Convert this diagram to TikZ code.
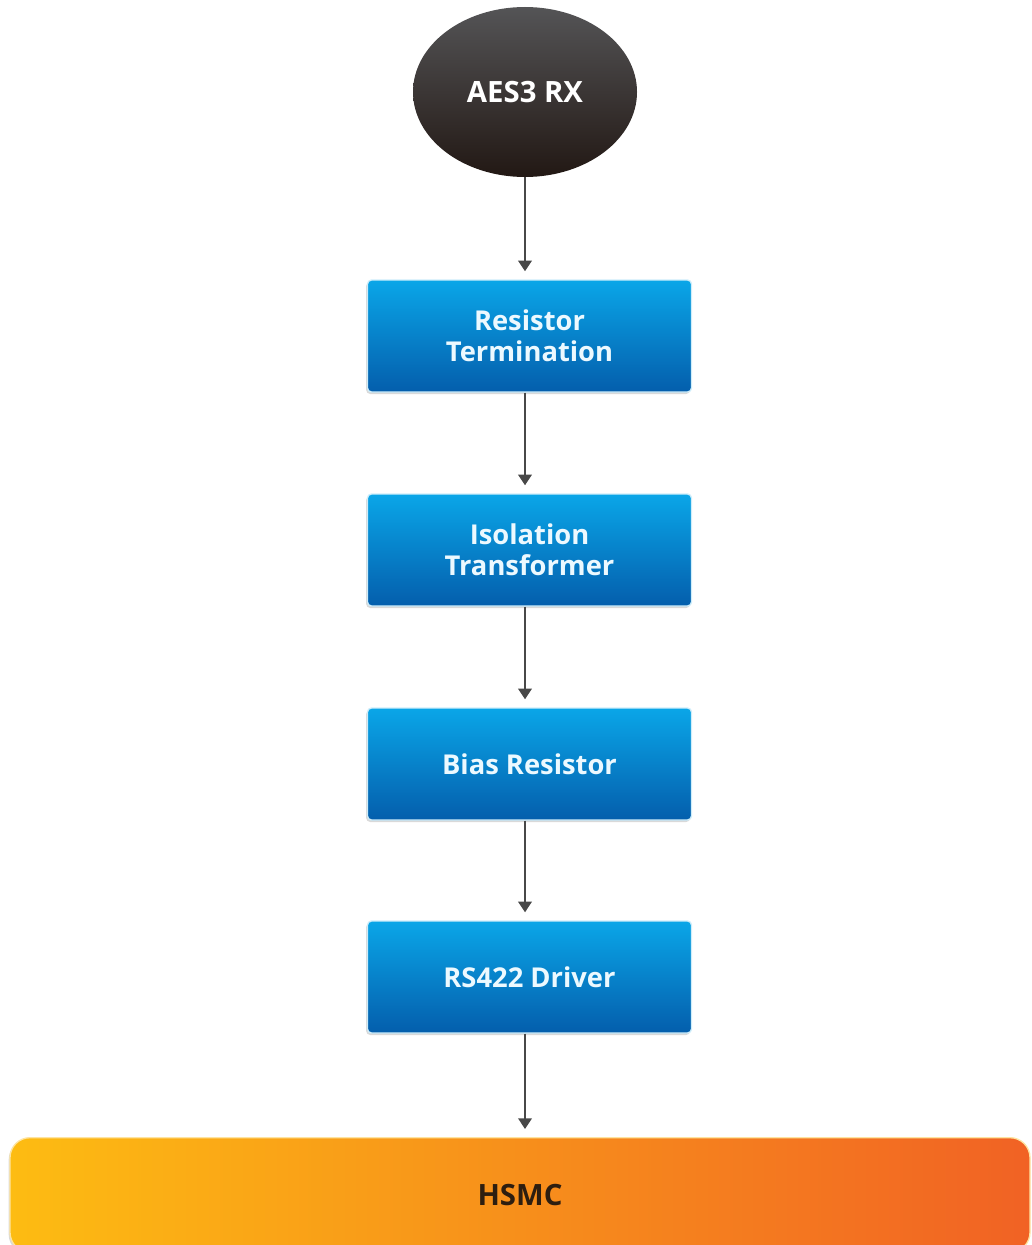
\documentclass[tikz,border=0pt]{standalone}
\usepackage{fontspec}
\setmainfont{Open Sans}
\usetikzlibrary{arrows.meta, shadows, shapes.geometric}

\definecolor{boxtop}{RGB}{10,166,232}
\definecolor{boxbot}{RGB}{4,94,172}
\definecolor{ovaltop}{RGB}{84,84,86}
\definecolor{ovalbot}{RGB}{34,24,20}
\definecolor{hsmcleft}{RGB}{253,188,18}
\definecolor{hsmcright}{RGB}{241,98,36}
\definecolor{wire}{RGB}{72,72,72}
\definecolor{boxtext}{RGB}{236,249,255}
\definecolor{hsmctext}{RGB}{45,30,16}

\begin{document}
\begin{tikzpicture}[x=0.75pt,y=0.75pt,yscale=-1,xscale=1,
    blockbox/.style={rectangle, rounded corners=3pt, draw=white!80!boxtop, line width=1pt,
        top color=boxtop, bottom color=boxbot, minimum width=243pt, minimum height=84pt,
        align=center, text=boxtext, font=\fontsize{20.5}{23.5}\selectfont\bfseries,
        drop shadow={shadow xshift=-1pt, shadow yshift=-1.5pt, opacity=0.3}},
    flowline/.style={draw=wire, line width=1.8pt, -{Triangle[length=8pt,width=10pt]}, shorten >=6pt}]
    \useasboundingbox (0,0) rectangle (1031,1245);
    \clip (0,0) rectangle (1031,1245);

    %Shape: Ellipse
    \node (aesrx) [ellipse, minimum width=168pt, minimum height=127.5pt, inner sep=0pt,
        top color=ovaltop, bottom color=ovalbot, text=white,
        font=\fontsize{22}{24}\selectfont\bfseries] at (525,92) {AES3 RX};

    %Shape: Rectangle
    \node (resterm) [blockbox] at (529.5,336) {Resistor\\Termination};
    %Shape: Rectangle
    \node (isotrans) [blockbox] at (529.5,550) {Isolation\\Transformer};
    %Shape: Rectangle
    \node (biasres) [blockbox] at (529.5,764) {Bias Resistor};
    %Shape: Rectangle
    \node (rsdriver) [blockbox] at (529.5,977) {RS422 Driver};

    %Shape: Rounded Rectangle
    \node (hsmc) [rectangle, rounded corners=15pt, draw=hsmcleft!40!white, line width=1pt,
        left color=hsmcleft, right color=hsmcright, minimum width=765pt, minimum height=86pt,
        text=hsmctext, font=\fontsize{22}{24}\selectfont\bfseries,
        drop shadow={shadow xshift=-1pt, shadow yshift=-1.5pt, opacity=0.3}] at (520,1195) {HSMC};

    %Straight Lines
    \draw [flowline] (aesrx.south) -- (aesrx.south |- resterm.north);
    \draw [flowline] (aesrx.south |- resterm.south) -- (aesrx.south |- isotrans.north);
    \draw [flowline] (aesrx.south |- isotrans.south) -- (aesrx.south |- biasres.north);
    \draw [flowline] (aesrx.south |- biasres.south) -- (aesrx.south |- rsdriver.north);
    \draw [flowline] (aesrx.south |- rsdriver.south) -- (aesrx.south |- hsmc.north);

\end{tikzpicture}
\end{document}
